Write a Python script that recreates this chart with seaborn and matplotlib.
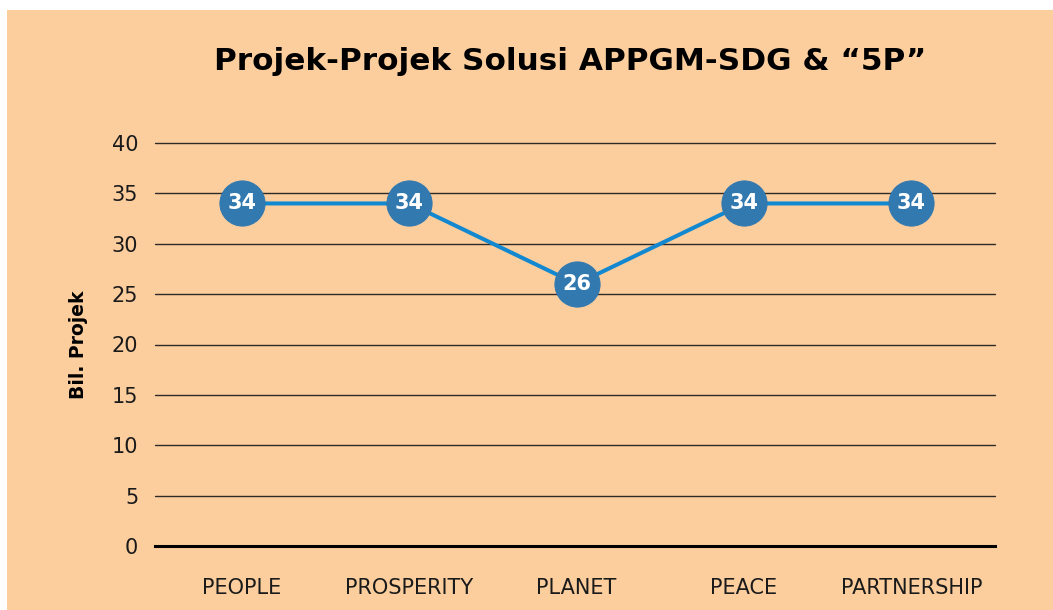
import matplotlib
matplotlib.use('Agg')
import matplotlib.pyplot as plt
import seaborn as sns
import pandas as pd

# chart data
categories = ['PEOPLE', 'PROSPERITY', 'PLANET', 'PEACE', 'PARTNERSHIP']
projects = [34, 34, 26, 34, 34]
y_ticks = [0, 5, 10, 15, 20, 25, 30, 35, 40]

df = pd.DataFrame({'Kategori': categories, 'Bil': projects})

bg = '#FCCE9E'
marker_col = '#3279B0'
line_col = '#1288D0'

sns.set_theme(style='white')
plt.rcParams['font.family'] = ['DejaVu Sans']

fig = plt.figure(figsize=(10.53, 6.10), dpi=100)
fig.patch.set_facecolor('white')
# peach panel (white strip at top and left, like the original image)
fig.add_artist(plt.Rectangle((7 / 1053, 0), 1, 600 / 610, transform=fig.transFigure,
                             facecolor=bg, edgecolor='none', zorder=-10))

ax = fig.add_axes([155 / 1053, 64 / 610, 840 / 1053, 403 / 610])
ax.set_facecolor('none')
ax.set_zorder(2)

sns.lineplot(data=df, x='Kategori', y='Bil', ax=ax, color=line_col, linewidth=2.9,
             marker='o', markersize=32.5, markerfacecolor=marker_col,
             markeredgecolor=marker_col, sort=False, zorder=3)

for i, v in enumerate(projects):
    ax.text(i, v, str(v), color='white', fontsize=15, fontweight='bold',
            ha='center', va='center', zorder=4)

ax.set_xlim(-0.52, 4.5)
ax.set_ylim(0, 40)
ax.set_yticks(y_ticks)
for y in y_ticks[1:]:
    ax.axhline(y, color='#2e2a26', linewidth=1.0, zorder=1, clip_on=False)

for s in ['top', 'right', 'left']:
    ax.spines[s].set_visible(False)
ax.spines['bottom'].set_color('black')
ax.spines['bottom'].set_linewidth(2.2)

ax.tick_params(axis='y', length=0, pad=12, labelsize=15, labelcolor='#1a1a1a')
ax.tick_params(axis='x', length=0, pad=23, labelsize=15, labelcolor='#1a1a1a')
ax.set_xlabel('')
ax.set_ylabel('Bil. Projek', fontsize=13.5, fontweight='bold', color='black', labelpad=17)

fig.text(570 / 1053, 1 - 62 / 610, 'Projek-Projek Solusi APPGM-SDG & “5P”',
         ha='center', va='center', fontsize=22.4, fontweight='bold', color='black')

fig.savefig('out.png', dpi=100, facecolor=fig.get_facecolor())
